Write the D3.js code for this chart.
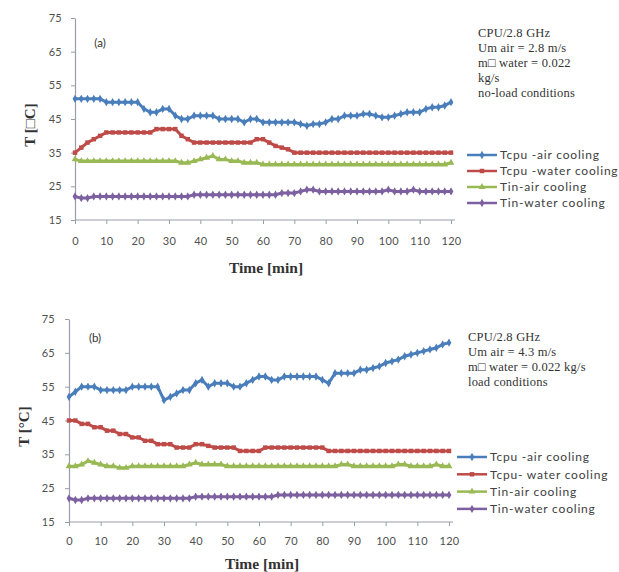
<!DOCTYPE html>
<html>
<head>
<meta charset="utf-8">
<script src="https://cdn.jsdelivr.net/npm/d3@7"></script>
<style>
  body { margin: 0; background: #fff; }
  svg { display: block; }
</style>
</head>
<body>
<svg class="canvas" width="619" height="572"></svg>
<script>
'use strict';

// Time samples, every 2 minutes.
const minutes = d3.range(0, 121, 2);
const xTicks = [0, 10, 20, 30, 40, 50, 60, 70, 80, 90, 100, 110, 120];
const yTicks = [15, 25, 35, 45, 55, 65, 75];

const seriesNames = ['Tcpu -air cooling', 'Tcpu -water cooling', 'Tin-air cooling', 'Tin-water cooling'];
const seriesNamesB = ['Tcpu -air cooling', 'Tcpu- water cooling', 'Tin-air cooling', 'Tin-water cooling'];

// (a) no-load conditions
const aCpuAir = [51, 51, 51, 51, 51, 50, 50, 50, 50, 50, 50, 48, 47, 47, 48, 48,
  46, 45, 45, 46, 46, 46, 46, 45, 45, 45, 45, 44, 45, 45, 44, 44, 44, 44, 44, 44,
  43.5, 43, 43.5, 43.5, 44, 45, 45, 46, 46, 46, 46.5, 46.5, 46, 45.5, 45.5, 46,
  46.5, 47, 47, 47, 48, 48.5, 48.5, 49, 50];
const aCpuWater = [35, 36.5, 38, 39, 40, 41, 41, 41, 41, 41, 41, 41, 41, 42, 42, 42,
  42, 40, 39, 38, 38, 38, 38, 38, 38, 38, 38, 38, 38, 39, 39, 38, 37, 36.5, 36, 35,
  35, 35, 35, 35, 35, 35, 35, 35, 35, 35, 35, 35, 35, 35, 35, 35, 35, 35, 35, 35,
  35, 35, 35, 35, 35];
const aInAir = [33, 32.5, 32.5, 32.5, 32.5, 32.5, 32.5, 32.5, 32.5, 32.5, 32.5, 32.5,
  32.5, 32.5, 32.5, 32.5, 32.5, 32, 32, 32.5, 33, 33.5, 34, 33, 33, 32.5, 32.5, 32,
  32, 32, 31.5, 31.5, 31.5, 31.5, 31.5, 31.5, 31.5, 31.5, 31.5, 31.5, 31.5, 31.5,
  31.5, 31.5, 31.5, 31.5, 31.5, 31.5, 31.5, 31.5, 31.5, 31.5, 31.5, 31.5, 31.5,
  31.5, 31.5, 31.5, 31.5, 31.5, 32];
const aInWater = [22, 21.5, 21.5, 22, 22, 22, 22, 22, 22, 22, 22, 22, 22, 22, 22, 22,
  22, 22, 22, 22.5, 22.5, 22.5, 22.5, 22.5, 22.5, 22.5, 22.5, 22.5, 22.5, 22.5, 22.5,
  22.5, 22.5, 23, 23, 23, 23.5, 24, 24, 23.5, 23.5, 23.5, 23.5, 23.5, 23.5, 23.5,
  23.5, 23.5, 23.5, 23.5, 24, 23.5, 23.5, 23.5, 24, 23.5, 23.5, 23.5, 23.5, 23.5, 23.5];

// (b) load conditions
const bCpuAir = [52, 53.5, 55, 55, 55, 54, 54, 54, 54, 54, 55, 55, 55, 55, 55, 51,
  52, 53, 54, 54, 56, 57, 55, 56, 56, 56, 55, 55, 56, 57, 58, 58, 57, 57, 58, 58,
  58, 58, 58, 58, 57, 56, 59, 59, 59, 59, 60, 60, 60.5, 61, 62, 62.5, 63, 64, 64.5,
  65, 65.5, 66, 66.5, 67.5, 68];
const bCpuWater = [45, 45, 44, 44, 43, 43, 42, 42, 41, 41, 40, 40, 39, 39, 38, 38,
  38, 37, 37, 37, 38, 38, 37.5, 37, 37, 37, 37, 36, 36, 36, 36, 37, 37, 37, 37, 37,
  37, 37, 37, 37, 37, 36, 36, 36, 36, 36, 36, 36, 36, 36, 36, 36, 36, 36, 36, 36,
  36, 36, 36, 36, 36];
const bInAir = [31.5, 31.5, 32, 33, 32.5, 32, 31.5, 31.5, 31, 31, 31.5, 31.5, 31.5,
  31.5, 31.5, 31.5, 31.5, 31.5, 31.5, 32, 32.5, 32, 32, 32, 32, 31.5, 31.5, 31.5,
  31.5, 31.5, 31.5, 31.5, 31.5, 31.5, 31.5, 31.5, 31.5, 31.5, 31.5, 31.5, 31.5,
  31.5, 31.5, 32, 32, 31.5, 31.5, 31.5, 31.5, 31.5, 31.5, 31.5, 32, 32, 31.5, 31.5,
  31.5, 31.5, 32, 31.5, 31.5];
const bInWater = [22, 21.5, 21.5, 22, 22, 22, 22, 22, 22, 22, 22, 22, 22, 22, 22, 22,
  22, 22, 22, 22, 22.5, 22.5, 22.5, 22.5, 22.5, 22.5, 22.5, 22.5, 22.5, 22.5, 22.5,
  22.5, 22.5, 23, 23, 23, 23, 23, 23, 23, 23, 23, 23, 23, 23, 23, 23, 23, 23, 23, 23,
  23, 23, 23, 23, 23, 23, 23, 23, 23, 23];

const notesA = ['CPU/2.8 GHz', 'Um air = 2.8  m/s', 'm\u25A1 water = 0.022', 'kg/s', 'no-load conditions'];
const notesB = ['CPU/2.8 GHz', 'Um air = 4.3  m/s', 'm\u25A1 water = 0.022 kg/s', 'load conditions'];

const colors = ['#4a7ebb', '#be4b48', '#98b954', '#7d60a0'];
const symbols = [d3.symbolDiamond, d3.symbolSquare, d3.symbolTriangle, d3.symbolDiamond];

const panels = [
  {
    tag: '(a)', tagPos: [100, 47],
    series: [aCpuAir, aCpuWater, aInAir, aInWater], names: seriesNames,
    x: [75, 451], axisEnd: 455, y: [220, 18],
    yTitle: 'T [\u25A1C]', yTitleX: 30, xTitleY: 273, xLabelPad: 13, yLabelPad: 9,
    notes: notesA, notesPos: [478, 37], noteStep: 15,
    legend: [467, 155, 16],
  },
  {
    tag: '(b)', tagPos: [95, 342],
    series: [bCpuAir, bCpuWater, bInAir, bInWater], names: seriesNamesB,
    x: [69, 449], axisEnd: 453, y: [522, 319],
    yTitle: 'T [\u00B0C]', yTitleX: 24, xTitleY: 569, xLabelPad: 11, yLabelPad: 10,
    notes: notesB, notesPos: [468, 341], noteStep: 15,
    legend: [457, 457, 17.3],
  },
];

const svg = d3.select('.canvas');
const axisColor = '#9a9cab';
const tickFont = 'Lato, "Open Sans", sans-serif';
const serifFont = '"Liberation Serif", "DejaVu Serif", serif';

panels.forEach(p => {
  const xScale = d3.scaleLinear([0, 120], p.x);
  const yScale = d3.scaleLinear([15, 75], p.y);
  const g = svg.append('g');

  // Axes.
  const xAxis = g.append('g')
    .attr('transform', `translate(0, ${p.y[0]})`)
    .call(d3.axisBottom(xScale).tickValues(xTicks).tickSize(4).tickPadding(p.xLabelPad).tickSizeOuter(0));
  xAxis.select('.domain').attr('d', `M${p.x[0]},0H${p.axisEnd}`);

  const yAxis = g.append('g')
    .attr('transform', `translate(${p.x[0]}, 0)`)
    .call(d3.axisLeft(yScale).tickValues(yTicks).tickSize(4).tickPadding(p.yLabelPad).tickSizeOuter(0));

  [xAxis, yAxis].forEach(a => {
    a.select('.domain').attr('stroke', axisColor).attr('stroke-width', 1.2);
    a.selectAll('.tick line').attr('stroke', axisColor);
    a.selectAll('.tick text')
      .attr('fill', '#505050')
      .style('font-family', tickFont)
      .style('font-size', '11px')
      .style('letter-spacing', '0.3px');
  });

  // Lines and markers.
  const line = d3.line()
    .x((d, i) => xScale(minutes[i]))
    .y(d => yScale(d));

  p.series.forEach((vals, si) => {
    g.append('path')
      .datum(vals)
      .attr('d', line)
      .attr('fill', 'none')
      .attr('stroke', colors[si])
      .attr('stroke-width', 3);
    g.append('g')
      .selectAll('path')
      .data(vals)
      .join('path')
      .attr('transform', (d, i) => `translate(${xScale(minutes[i])}, ${yScale(d)})`)
      .attr('d', d3.symbol(symbols[si], 20))
      .attr('fill', colors[si]);
  });

  // Panel tag.
  g.append('text')
    .attr('x', p.tagPos[0]).attr('y', p.tagPos[1])
    .attr('text-anchor', 'middle')
    .style('font-family', tickFont).style('font-size', '11.5px')
    .attr('fill', '#333')
    .text(p.tag);

  // Axis titles.
  g.append('text')
    .attr('x', (p.x[0] + p.axisEnd) / 2 + 1).attr('y', p.xTitleY)
    .attr('text-anchor', 'middle')
    .style('font-family', serifFont).style('font-size', '15.5px').style('font-weight', 'bold')
    .attr('fill', '#333')
    .text('Time [min]');
  g.append('text')
    .attr('transform', `translate(${p.yTitleX}, ${(p.y[0] + p.y[1]) / 2 + 6}) rotate(-90)`)
    .attr('text-anchor', 'middle')
    .attr('dy', '0.35em')
    .style('font-family', serifFont).style('font-size', '15px').style('font-weight', 'bold')
    .attr('fill', '#333')
    .text(p.yTitle);

  // Notes.
  g.append('g')
    .selectAll('text')
    .data(p.notes)
    .join('text')
    .attr('x', p.notesPos[0])
    .attr('y', (d, i) => p.notesPos[1] + i * p.noteStep)
    .style('font-family', serifFont).style('font-size', '12.5px')
    .style('letter-spacing', '0.2px')
    .attr('fill', '#333')
    .text(d => d);

  // Legend.
  const [lx, ly, lstep] = p.legend;
  const items = g.append('g')
    .selectAll('g')
    .data(p.names)
    .join('g')
    .attr('transform', (d, i) => `translate(${lx}, ${ly + i * lstep})`);
  items.append('line')
    .attr('x1', 0).attr('x2', 30)
    .attr('stroke', (d, i) => colors[i]).attr('stroke-width', 2.5);
  items.append('path')
    .attr('transform', 'translate(15, 0)')
    .attr('d', (d, i) => d3.symbol(symbols[i], 20)())
    .attr('fill', (d, i) => colors[i]);
  items.append('text')
    .attr('x', 33).attr('dy', '0.35em')
    .style('font-family', tickFont).style('font-size', '12px')
    .style('letter-spacing', '0.8px')
    .attr('fill', '#404040')
    .text(d => d);
});
</script>
</body>
</html>
